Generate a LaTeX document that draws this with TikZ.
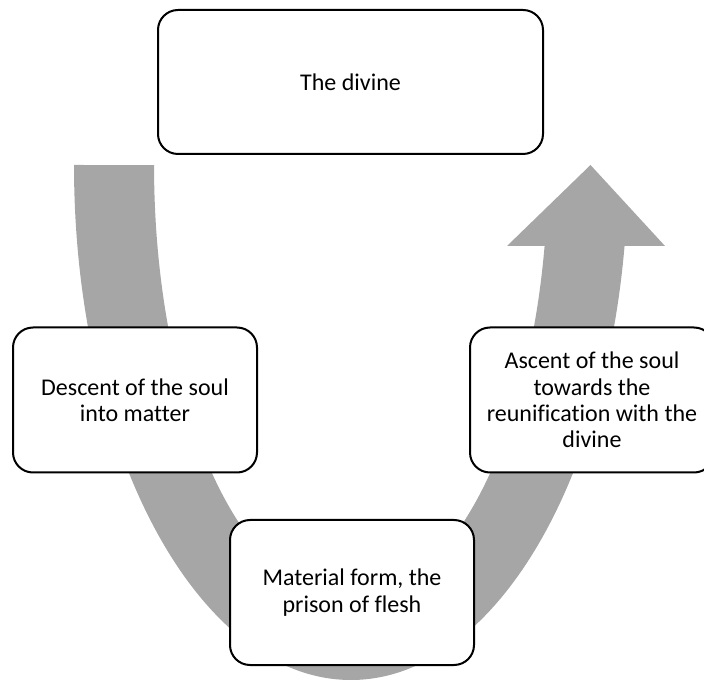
\documentclass[tikz,border=0pt]{standalone}
\usepackage{fontspec}
\setmainfont{Carlito}[Ligatures=NoCommon]
\usepackage{xcolor}
\usetikzlibrary{positioning}
\definecolor{arrowgray}{HTML}{A6A6A6}

\begin{document}
\begin{tikzpicture}[x=1pt,y=1pt,
  box/.style={draw=black, line width=2pt, rounded corners=20pt, fill=white,
    align=center, inner sep=0pt, minimum width=244pt, minimum height=145pt,
    font=\fontsize{24}{26.4}\selectfont}]
\useasboundingbox (0,0) rectangle (704,683);

% grey u-turn arrow
\fill[arrowgray] (74,518) arc[start angle=180, end angle=350.95, x radius=277, y radius=515]
  -- (665,437) -- (590.5,518) -- (507,437) -- (544.6,437.2)
  arc[start angle=349.3, end angle=180, x radius=197, y radius=435] -- cycle;

% stages
\node[box, minimum width=385pt, minimum height=144pt] (divine) at (350.5,601) {The divine};
\node[box] (descent) at (135,283) {Descent of the soul\\into matter};
\node[box] (flesh) at (352,90.5) {Material form, the\\prison of flesh};
\node[box] (ascent) at (592,283) {Ascent of the soul\\towards the\\reunification with the\\divine};

\end{tikzpicture}
\end{document}
